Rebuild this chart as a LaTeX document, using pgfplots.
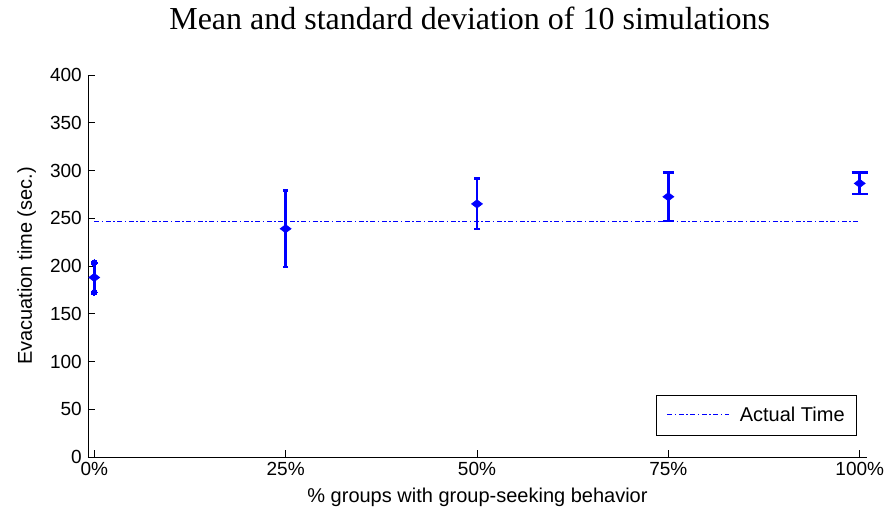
\documentclass[border=0pt]{standalone}
\usepackage{fontspec}
\setmainfont{Liberation Sans}
\newfontfamily\titlefont{Liberation Serif}
\usepackage{pgfplots}
\pgfplotsset{compat=1.18}
\definecolor{mblue}{RGB}{0,0,255}

\pgfplotsset{
  eb/.style={mblue, only marks, mark=diamond*, mark size=5.5bp,
    mark options={rotate=90, line width=0.6bp, fill=mblue, draw=mblue},
    error bars/y dir=both, error bars/y explicit,
    error bars/error bar style={line width=2.5bp, mblue},
    error bars/error mark=-,
    error bars/error mark options={rotate=90, line width=2.5bp, mblue, mark size=#1}},
}

\begin{document}
\begin{tikzpicture}
\useasboundingbox (-88bp,-57bp) rectangle (797bp,457bp);
\begin{axis}[
  at={(0,0)}, anchor=south west,
  scale only axis, width=779bp, height=382bp,
  xmin=-0.0082, xmax=1.0095, ymin=0, ymax=400,
  clip=false,
  axis x line=bottom, axis y line=left,
  axis line style={-, line width=0.8bp, black},
  tick align=inside, major tick length=7bp,
  tick style={line width=0.8bp, black},
  xtick={0,0.25,0.5,0.75,1},
  xticklabels={0\%,25\%,50\%,75\%,100\%},
  ytick={0,50,...,400},
  /pgf/number format/assume math mode=true,
  ticklabel style={font=\fontsize{19bp}{19bp}\selectfont},
  yticklabel style={anchor=east, inner sep=0pt, xshift=-6bp},
  xticklabel style={anchor=north, inner sep=0pt, yshift=-5bp},
  xlabel={\% groups with group-seeking behavior},
  ylabel={Evacuation time (sec.)},
  label style={font=\fontsize{20bp}{20bp}\selectfont},
  xlabel style={at={(axis description cs:0.5,-0.1178)}, anchor=base},
  ylabel style={at={(axis description cs:-0.0719,0.5)}, anchor=base},
  title={Mean and standard deviation of 10 simulations},
  title style={font=\titlefont\fontsize{32bp}{32bp}\selectfont,
    at={(axis description cs:0.49,1)}, anchor=base, yshift=40bp},
  legend style={at={(axis description cs:0.987,0.0576)}, anchor=south east,
    draw=black, font=\fontsize{20bp}{20bp}\selectfont,
    inner xsep=10bp, inner ysep=10bp, column sep=8bp},
  legend image code/.code={\draw[#1] (0bp,0bp) -- (62bp,0bp);},
]
\addplot[color=blue, line width=1.2bp, dash pattern=on 5bp off 2.5bp on 1.5bp off 2.5bp]
  coordinates {(0,247) (1,247)};
\addlegendentry{Actual Time}

\addplot[eb=0bp, forget plot, error bars/error mark=*,
  error bars/error mark options={mblue, fill=mblue, line width=0bp, mark size=3bp}]
  coordinates {(0,188) +- (0,15.5)};
\addplot[eb=2.5bp, forget plot] coordinates {(0.25,239) +- (0,40)};
\addplot[eb=3bp, forget plot] coordinates {(0.5,265) +- (0,26.5)};
\addplot[eb=5.5bp, forget plot] coordinates {(0.75,272.5) +- (0,25.5)};
\addplot[eb=8bp, forget plot] coordinates {(1,286.5) +- (0,11.3)};
\end{axis}
\end{tikzpicture}
\end{document}
